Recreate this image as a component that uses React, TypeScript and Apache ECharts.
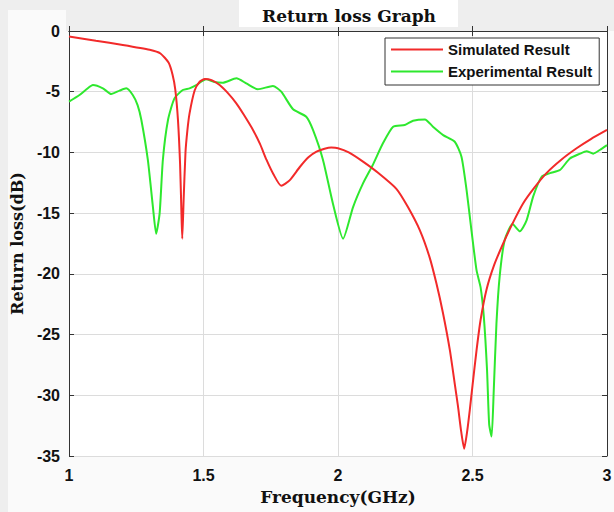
import React, { useEffect, useRef } from "react";
import * as echarts from "echarts";

const titleText = "Return loss Graph";
const xName = "Frequency(GHz)";
const yName = "Return loss(dB)";
const simName = "Simulated Result";
const expName = "Experimental Result";

const simFreq = [
  1.0, 1.1, 1.2, 1.3, 1.34, 1.37, 1.385, 1.395, 1.405, 1.413, 1.418, 1.421, 1.426, 1.433, 1.44, 1.448,
  1.467, 1.485, 1.505, 1.53, 1.56, 1.59, 1.622, 1.65, 1.684, 1.71, 1.734, 1.76, 1.789, 1.82, 1.858,
  1.89, 1.92, 1.95, 1.975, 2.0, 2.04, 2.093, 2.15, 2.217, 2.26, 2.304, 2.34, 2.366, 2.39, 2.416,
  2.435, 2.446, 2.458, 2.469, 2.48, 2.49, 2.5, 2.515, 2.53, 2.552, 2.58, 2.614, 2.65, 2.688, 2.73,
  2.775, 2.83, 2.887, 2.94, 3.0,
];
const simLoss = [
  -0.45, -0.8, -1.15, -1.55, -1.85, -2.6, -3.6, -4.8, -7.3, -11, -15, -17.1, -14, -10, -8.2, -6.8,
  -4.9, -4.2, -3.95, -4.05, -4.45, -5.1, -5.96, -6.9, -8.15, -9.3, -10.6, -11.8, -12.75, -12.3, -11.2,
  -10.4, -9.94, -9.7, -9.6, -9.65, -10.0, -10.76, -11.7, -13.0, -14.5, -16.4, -18.6, -20.8, -23.2, -26.3,
  -29.2, -30.9, -33.0, -34.4, -33.0, -31.2, -29.2, -26.3, -23.8, -21.3, -19.3, -17.5, -15.8, -14.2, -12.9,
  -11.7, -10.6, -9.66, -8.9, -8.15,
];

const expFreq = [
  1.0, 1.039, 1.065, 1.089, 1.126, 1.157, 1.188, 1.213, 1.237, 1.255, 1.269, 1.293, 1.312, 1.324,
  1.337, 1.349, 1.368, 1.392, 1.423, 1.448, 1.473, 1.51, 1.54, 1.572, 1.622, 1.659, 1.702, 1.758,
  1.789, 1.833, 1.882, 1.907, 1.944, 1.981, 2.019, 2.056, 2.093, 2.13, 2.167, 2.205, 2.248, 2.279,
  2.323, 2.353, 2.391, 2.434, 2.459, 2.478, 2.496, 2.515, 2.53, 2.542, 2.554, 2.562, 2.571, 2.579,
  2.589, 2.601, 2.62, 2.649, 2.676, 2.701, 2.726, 2.757, 2.788, 2.825, 2.862, 2.9, 2.924, 2.949,
  2.973, 3.0,
];
const expLoss = [
  -5.82, -5.27, -4.8, -4.45, -4.72, -5.19, -4.91, -4.72, -5.27, -6.1, -7.33, -10.6, -14.5, -16.7,
  -15.0, -10.6, -7.33, -5.55, -4.86, -4.72, -4.45, -3.98, -4.2, -4.26, -3.9, -4.31, -4.8, -4.53,
  -5.0, -6.45, -7.06, -8.15, -10.6, -14.2, -17.1, -14.5, -12.55, -11.0, -9.25, -7.88, -7.74, -7.39,
  -7.28, -7.88, -8.57, -9.12, -10.35, -13.1, -16.4, -19.7, -21.1, -23.5, -27.9, -32.4, -33.4, -29.6,
  -24.1, -20.2, -17.2, -15.9, -16.5, -15.6, -13.6, -12.0, -11.7, -11.45, -10.5, -10.1, -9.9, -10.1,
  -9.8, -9.4,
];

const xTicks = { min: 1, max: 3, interval: 0.5 };
const yTicks = { min: -35, max: 0, interval: 5 };

export default function App() {
  const ref = useRef<HTMLDivElement>(null);
  useEffect(() => {
    if (!ref.current) return;
    const chart = echarts.init(ref.current, null, { renderer: "svg" });
    const sans = "Liberation Sans";
    const serif = "DejaVu Serif";
    const axisLine = { show: true, lineStyle: { color: "#333", width: 1 } };
    const tickInside = { show: true, inside: true, length: 5, lineStyle: { color: "#333" } };
    const labelStyle = { fontFamily: sans, fontWeight: "bold", fontSize: 16, color: "#111" };
    chart.setOption({
      animation: false,
      backgroundColor: "#fafafa",
      title: {
        text: titleText,
        left: 239,
        top: 0,
        padding: [7, 22, 3, 23],
        backgroundColor: "#ffffff",
        textStyle: { fontFamily: serif, fontWeight: "bold", fontSize: 17, color: "#111", lineHeight: 17 },
      },
      graphic: [
        { type: "rect", shape: { x: 0, y: 0, width: 614, height: 10 }, style: { fill: "#eeeeee" }, silent: true, z: -10 },
        { type: "rect", shape: { x: 0, y: 0, width: 8, height: 512 }, style: { fill: "#eeeeee" }, silent: true, z: -10 },
        { type: "rect", shape: { x: 66, y: 0, width: 548, height: 31 }, style: { fill: "#eeeeee" }, silent: true, z: -10 },
      ],
      legend: {
        orient: "vertical",
        left: 385,
        top: 38,
        padding: [4, 7, 6, 6],
        icon: "rect",
        itemWidth: 52,
        itemHeight: 2,
        itemGap: 7,
        backgroundColor: "#ffffff",
        borderColor: "#333",
        borderWidth: 1,
        borderRadius: 0,
        textStyle: { fontFamily: sans, fontWeight: "bold", fontSize: 15, color: "#111", lineHeight: 15 },
        data: [simName, expName],
      },
      grid: {
        left: 69,
        top: 31,
        right: 7,
        bottom: 56,
        show: true,
        backgroundColor: "#ffffff",
        borderWidth: 0,
        outerBoundsMode: "none",
        containLabel: false,
      },
      xAxis: [
        {
          type: "value",
          ...xTicks,
          position: "bottom",
          name: xName,
          nameLocation: "middle",
          nameGap: 32,
          nameTextStyle: { fontFamily: serif, fontWeight: "bold", fontSize: 17, color: "#111" },
          axisLine,
          axisTick: tickInside,
          axisLabel: { ...labelStyle, margin: 11 },
          splitLine: { show: true, lineStyle: { color: "#dcdcdc", width: 1 } },
        },
        {
          type: "value",
          ...xTicks,
          position: "top",
          axisLine,
          axisTick: tickInside,
          axisLabel: { show: false },
          splitLine: { show: false },
        },
      ],
      yAxis: [
        {
          type: "value",
          ...yTicks,
          position: "left",
          name: yName,
          nameLocation: "middle",
          nameGap: 37,
          nameTextStyle: { fontFamily: serif, fontWeight: "bold", fontSize: 16, color: "#111" },
          axisLine,
          axisTick: tickInside,
          axisLabel: { ...labelStyle, margin: 9 },
          splitLine: { show: true, lineStyle: { color: "#dcdcdc", width: 1 } },
        },
        {
          type: "value",
          ...yTicks,
          position: "right",
          axisLine,
          axisTick: tickInside,
          axisLabel: { show: false },
          splitLine: { show: false },
        },
      ],
      series: [
        {
          name: simName,
          type: "line",
          xAxisIndex: 0,
          yAxisIndex: 0,
          symbol: "none",
          smooth: 0.2,
          lineStyle: { color: "#f22a2a", width: 2 },
          itemStyle: { color: "#f22a2a" },
          data: simFreq.map((f, i) => [f, simLoss[i]]),
          z: 3,
        },
        {
          name: expName,
          type: "line",
          xAxisIndex: 0,
          yAxisIndex: 0,
          symbol: "none",
          smooth: 0.2,
          lineStyle: { color: "#2ee82e", width: 2 },
          itemStyle: { color: "#2ee82e" },
          data: expFreq.map((f, i) => [f, expLoss[i]]),
          z: 2,
        },
      ],
    });
    return () => chart.dispose();
  }, []);
  return (
    <div
      ref={ref}
      style={{ position: "fixed", left: 0, top: 0, width: 614, height: 512 }}
    />
  );
}
